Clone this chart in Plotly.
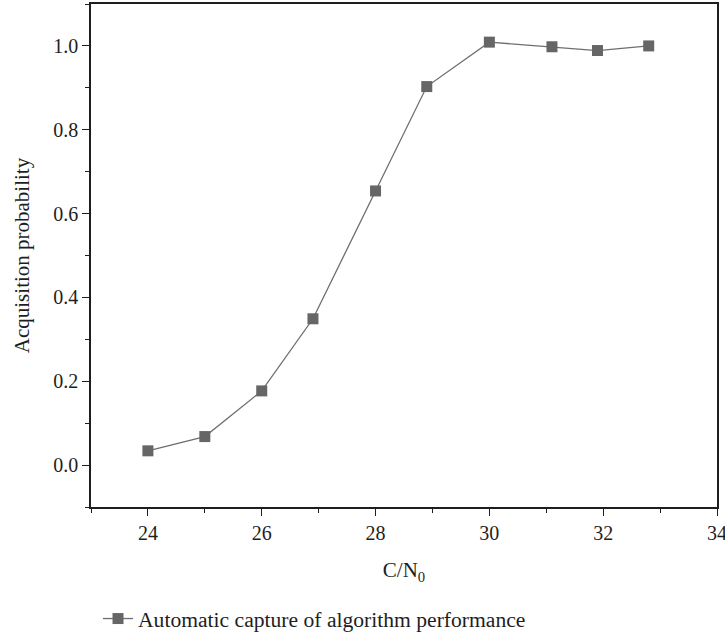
import plotly.graph_objects as go

cn0 = [24, 25, 26, 26.9, 28, 28.9, 30, 31.1, 31.9, 32.8]
acq_prob = [0.034, 0.068, 0.177, 0.349, 0.654, 0.903, 1.009, 0.998, 0.989, 1.0]
x_ticks = [24, 26, 28, 30, 32, 34]
y_ticks = [0.0, 0.2, 0.4, 0.6, 0.8, 1.0]
y_tick_text = ["0.0", "0.2", "0.4", "0.6", "0.8", "1.0"]
series_name = "Automatic capture of algorithm performance"

FONT = "Liberation Serif"
INK = "#1e1e1e"
fig = go.Figure()
fig.add_trace(go.Scatter(
    x=cn0, y=acq_prob, mode="lines+markers", name=series_name,
    line=dict(color="#6e6e6e", width=1.3),
    marker=dict(symbol="square", size=11, color="#666666",
                line=dict(color="#666666", width=0)),
))

fig.update_xaxes(
    range=[23, 34], tickvals=x_ticks, ticktext=[str(v) for v in x_ticks],
    showline=True, linecolor=INK, linewidth=1.5, mirror=True,
    showgrid=False, zeroline=False, ticks="outside", ticklen=7, tickwidth=1.3,
    tickcolor=INK, automargin=False, ticklabeloverflow="allow",
    tickfont=dict(family=FONT, size=20, color=INK),
    minor=dict(dtick=1, tick0=0, ticks="outside", ticklen=4, tickcolor=INK, tickwidth=1.2),
    title=dict(text="C/N<sub>0</sub>", font=dict(family=FONT, size=21, color=INK), standoff=20),
)
fig.update_yaxes(
    range=[-0.1, 1.1], tickvals=y_ticks, ticktext=y_tick_text,
    showline=True, linecolor=INK, linewidth=1.5, mirror=True,
    showgrid=False, zeroline=False, ticks="outside", ticklen=7, tickwidth=1.3,
    tickcolor=INK, automargin=False, ticklabeloverflow="allow",
    tickfont=dict(family=FONT, size=20, color=INK),
    minor=dict(dtick=0.1, tick0=0, ticks="outside", ticklen=4, tickcolor=INK, tickwidth=1.2),
    title=dict(text="Acquisition probability", font=dict(family=FONT, size=21, color=INK), standoff=18),
)

fig.update_layout(
    width=725, height=635,
    font=dict(family=FONT, size=20, color=INK),
    margin=dict(l=91, r=8, t=4, b=128),
    paper_bgcolor="white", plot_bgcolor="white",
    showlegend=True,
    legend=dict(orientation="h", xref="container", yref="container",
                x=0.1352, xanchor="left", y=0.0252, yanchor="middle",
                font=dict(family=FONT, size=21.6, color=INK), bgcolor="rgba(0,0,0,0)"),
)
fig.write_html("out.html", config={"displayModeBar": False},
               post_script="document.body.style.margin='0';document.body.style.padding='0';")
